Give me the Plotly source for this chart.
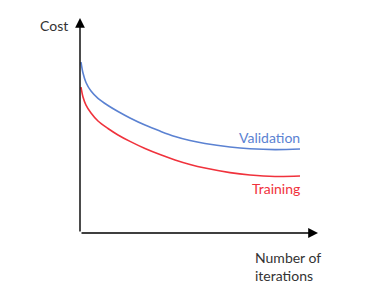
import plotly.graph_objects as go

# Data (iterations, cost)
iterations = [0.42, 1.26, 2.52, 4.62, 7.56, 11.76, 15.97, 21.01, 27.31, 33.61, 39.92, 46.22, 52.52, 63.03, 71.43, 81.93, 92.44]
validation_cost = [79.5, 74.4, 70.0, 66.0, 62.6, 59.3, 56.5, 53.5, 50.2, 47.4, 44.9, 43.0, 41.6, 40.0, 39.2, 38.8, 39.1]
training_cost = [67.9, 63.3, 59.5, 55.8, 52.1, 48.6, 45.6, 42.6, 39.3, 36.5, 34.0, 31.9, 30.2, 28.1, 27.0, 26.3, 26.5]

series_names = ["Validation", "Training"]
axis_titles = ["Cost", "Number of<br>iterations"]

BLUE = "#5b82d2"
RED = "#f0323c"
TEXT = "#333333"
FONT = "Lato"

fig = go.Figure()
fig.add_trace(go.Scatter(x=iterations, y=validation_cost, mode="lines",
                         line=dict(color=BLUE, width=1.6, shape="spline", smoothing=1.0),
                         name=series_names[0], hoverinfo="skip"))
fig.add_trace(go.Scatter(x=iterations, y=training_cost, mode="lines",
                         line=dict(color=RED, width=1.6, shape="spline", smoothing=1.0),
                         name=series_names[1], hoverinfo="skip"))

annotations = [
    # axes with arrowheads
    dict(x=100, y=0, ax=0, ay=0, xref="x", yref="y", axref="x", ayref="y",
         showarrow=True, arrowhead=2, arrowsize=1.4, arrowwidth=1.4, arrowcolor="black", text="", standoff=0),
    dict(x=0, y=100, ax=0, ay=0, xref="x", yref="y", axref="x", ayref="y",
         showarrow=True, arrowhead=2, arrowsize=1.4, arrowwidth=1.4, arrowcolor="black", text="", standoff=0),
    dict(x=-0.042, y=0.967, xref="paper", yref="paper", text=axis_titles[0], showarrow=False,
         xanchor="right", yanchor="middle", font=dict(family=FONT, size=14, color=TEXT)),
    dict(x=0.727, y=-0.158, xref="paper", yref="paper", text=axis_titles[1], showarrow=False,
         xanchor="left", yanchor="middle", align="left", font=dict(family=FONT, size=14, color=TEXT)),
    dict(x=93.3, y=44.2, xref="x", yref="y", text=series_names[0], showarrow=False,
         xanchor="right", yanchor="middle", font=dict(family=FONT, size=14, color=BLUE)),
    dict(x=93.3, y=20.5, xref="x", yref="y", text=series_names[1], showarrow=False,
         xanchor="right", yanchor="middle", font=dict(family=FONT, size=14, color=RED)),
]

fig.update_layout(
    width=372, height=295,
    margin=dict(l=80, r=54, t=18, b=62),
    paper_bgcolor="white", plot_bgcolor="white",
    showlegend=False,
    xaxis=dict(range=[0, 100], visible=False, fixedrange=True),
    yaxis=dict(range=[0, 100], visible=False, fixedrange=True),
    annotations=annotations,
)

fig.write_html("out.html", config={"displayModeBar": False})
